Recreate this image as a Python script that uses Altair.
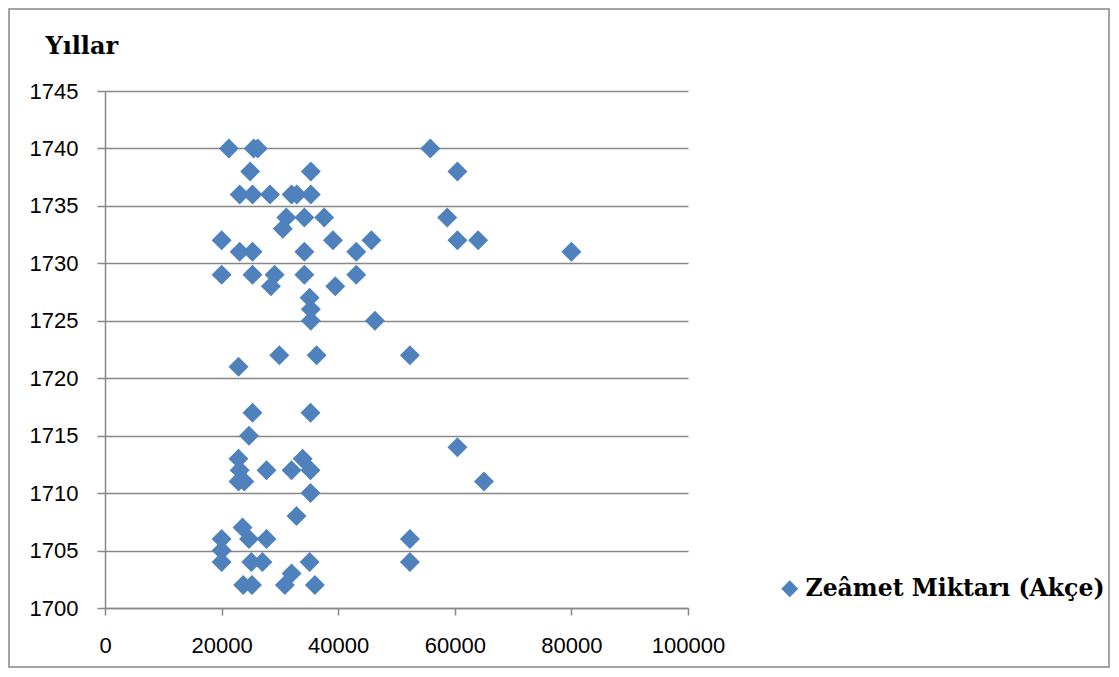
import altair as alt
import pandas as pd

years = [
    1740, 1740, 1740, 1740,
    1738, 1738, 1738,
    1736, 1736, 1736, 1736, 1736, 1736,
    1734, 1734, 1734, 1734,
    1733,
    1732, 1732, 1732, 1732, 1732,
    1731, 1731, 1731, 1731, 1731,
    1729, 1729, 1729, 1729, 1729,
    1728, 1728,
    1727,
    1726,
    1725, 1725,
    1722, 1722, 1722,
    1721,
    1717, 1717,
    1715,
    1714,
    1713, 1713,
    1712, 1712, 1712, 1712,
    1711, 1711, 1711,
    1710,
    1708,
    1707,
    1706, 1706, 1706, 1706,
    1705,
    1704, 1704, 1704, 1704, 1704,
    1703,
    1702, 1702, 1702, 1702,
]
amounts = [
    21250, 25500, 26200, 55800,
    24900, 35300, 60450,
    23100, 25300, 28300, 32000, 32900, 35300,
    31100, 34200, 37600, 58700,
    30500,
    20000, 39100, 45700, 60450, 64000,
    23100, 25300, 34200, 43100, 80000,
    20000, 25300, 29100, 34200, 43100,
    28450, 39500,
    35100,
    35300,
    35300, 46300,
    29900, 36300, 52300,
    22900,
    25300, 35250,
    24700,
    60450,
    22900, 33900,
    23100, 27700, 32000, 35250,
    22900, 23900, 65000,
    35250,
    32850,
    23600,
    20000, 24700, 27700, 52300,
    20000,
    20000, 25100, 27000, 35100, 52300,
    32000,
    23700, 25200, 30850, 36000,
]
series_name = "Zeâmet Miktarı (Akçe)"
x_ticks = [0, 20000, 40000, 60000, 80000, 100000]
y_ticks = [1700, 1705, 1710, 1715, 1720, 1725, 1730, 1735, 1740, 1745]

df = pd.DataFrame({"year": years, "amount": amounts, "series": [series_name] * len(years)})

W, H = 583, 517
PL, PT = 97, 83
TOTAL_W, TOTAL_H = 1103, 661

grey = "#878787"
blue = "#4F81BD"

points = alt.Chart(df).mark_point(filled=True, shape="diamond", size=400, opacity=1).encode(
    x=alt.X(
        "amount:Q",
        scale=alt.Scale(domain=[0, 100000], nice=False),
        axis=alt.Axis(
            values=x_ticks, format="d", title=None, grid=False,
            domainColor=grey, domainWidth=1.5, tickColor=grey, tickWidth=1.5, tickSize=7,
            labelFont="Liberation Sans", labelFontSize=22, labelColor="black",
            labelPadding=20, labelFlush=False,
        ),
    ),
    y=alt.Y(
        "year:Q",
        scale=alt.Scale(domain=[1700, 1745], nice=False, zero=False),
        axis=alt.Axis(
            values=y_ticks, format="d", title="Yıllar", titleAngle=0,
            titleAlign="left", titleBaseline="alphabetic", titleX=-60, titleY=-38,
            titleFont="DejaVu Serif", titleFontSize=24, titleFontWeight="bold", titleColor="black",
            grid=True, gridColor=grey, gridWidth=1.5,
            domainColor=grey, domainWidth=1.5, tickColor=grey, tickWidth=1.5, tickSize=8,
            labelFont="Liberation Sans", labelFontSize=22, labelColor="black",
            labelPadding=19, labelFlush=False,
        ),
    ),
    color=alt.Color(
        "series:N",
        scale=alt.Scale(range=[blue]),
        legend=alt.Legend(
            title=None, orient="none", legendX=673, legendY=486,
            symbolType="diamond", symbolSize=290, symbolStrokeWidth=0, symbolFillColor=blue,
            labelFont="DejaVu Serif", labelFontSize=23.5, labelFontWeight="bold", labelColor="black",
            labelOffset=4, labelLimit=400,
        ),
    ),
)

border = alt.Chart(pd.DataFrame({"a": [0]})).mark_rect(
    filled=False, stroke=grey, strokeWidth=1.5, clip=False
).encode(
    x=alt.value(-96), x2=alt.value(TOTAL_W - PL - 2),
    y=alt.value(-82), y2=alt.value(TOTAL_H - PT - 2),
)

chart = alt.layer(border, points).properties(
    width=W, height=H,
    autosize=alt.AutoSizeParams(type="none"),
    padding={"left": PL, "top": PT, "right": TOTAL_W - PL - W, "bottom": TOTAL_H - PT - H},
).configure_view(strokeWidth=0)

chart.save("out.html", embed_options={"renderer": "svg", "actions": False})
